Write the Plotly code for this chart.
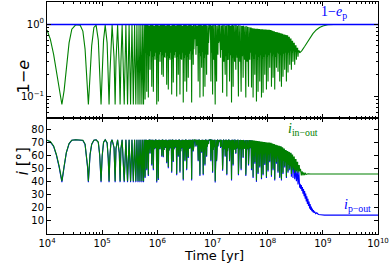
import plotly.graph_objects as go

# ---------------- data (log10 of time in yr) ----------------
early_log_t = [4.00, 4.06, 4.12, 4.17, 4.22, 4.27, 4.31, 4.35, 4.40, 4.45,
               4.52, 4.60, 4.65, 4.69, 4.72, 4.735, 4.75, 4.765, 4.78, 4.81,
               4.85, 4.89, 4.93, 4.955, 4.98, 5.00, 5.025, 5.055, 5.09, 5.11,
               5.125, 5.14, 5.16, 5.18, 5.215, 5.235, 5.25, 5.28, 5.31, 5.325,
               5.34, 5.362, 5.40, 5.43, 5.46, 5.488, 5.515, 5.54, 5.565, 5.588,
               5.61, 5.63, 5.65, 5.668, 5.685, 5.702, 5.72, 5.735, 5.75, 5.764]
early_one_minus_e = [0.83, 0.62, 0.38, 0.22, 0.12, 0.077, 0.12, 0.25, 0.55, 0.85,
                     0.98, 0.97, 0.80, 0.45, 0.20, 0.12, 0.077, 0.12, 0.22, 0.50,
                     0.90, 0.97, 0.60, 0.22, 0.077, 0.20, 0.60, 0.97, 0.55, 0.18,
                     0.077, 0.20, 0.60, 0.97, 0.35, 0.077, 0.30, 0.97, 0.25, 0.077,
                     0.30, 0.97, 0.077, 0.97, 0.077, 0.97, 0.077, 0.97, 0.077, 0.97,
                     0.077, 0.97, 0.077, 0.97, 0.077, 0.97, 0.077, 0.97, 0.077, 0.97]
early_i_in = [72, 71, 67.5, 61, 52, 40.5, 52, 62.5, 69.5, 72,
              72.3, 72.3, 72, 69, 60, 52, 40.5, 52, 61, 69,
              72, 72.3, 70.5, 61, 40.5, 60, 70.5, 72.3, 70, 58,
              40.5, 60, 70.5, 72.3, 66.5, 40.5, 65.5, 72.3, 62.5, 40.5,
              65.5, 72.3, 40.5, 72.3, 40.5, 72.3, 40.5, 72.3, 40.5, 72.3,
              40.5, 72.3, 40.5, 72.3, 40.5, 72.3, 40.5, 72.3, 40.5, 72.3]
early_i_p = [72, 70.7, 67.2, 60.5, 51.3, 39.8, 51.3, 62.2, 69.2, 72,
             72.3, 72.3, 71.8, 68.7, 59.5, 51.3, 39.8, 51.3, 60.5, 68.7,
             72, 72.3, 70.2, 60.5, 39.8, 59.5, 70.2, 72.3, 69.7, 57.5,
             39.8, 59.5, 70.2, 72.3, 66.2, 39.8, 65.2, 72.3, 62.2, 39.8,
             65.2, 72.3, 39.8, 72.3, 39.8, 72.3, 39.8, 72.3, 39.8, 72.3,
             39.8, 72.3, 39.8, 72.3, 39.8, 72.3, 39.8, 72.3, 39.8, 72.3]

# chaotic phase: times of the local minima and the minima / following maxima
dense_log_t = [5.778, 5.808, 5.837, 5.868, 5.899, 5.928, 5.958, 5.989, 6.018, 6.049,
               6.080, 6.108, 6.139, 6.170, 6.199, 6.230, 6.260, 6.289, 6.320, 6.351,
               6.380, 6.410, 6.441, 6.470, 6.501, 6.532, 6.561, 6.591, 6.622, 6.651,
               6.673, 6.700, 6.741, 6.772, 6.803, 6.832, 6.863, 6.893, 6.917, 6.940,
               6.971, 7.002, 7.025, 7.049, 7.074, 7.098, 7.121, 7.146, 7.183, 7.206,
               7.230, 7.260, 7.284, 7.309, 7.345, 7.374, 7.400, 7.423, 7.447, 7.470,
               7.496, 7.519, 7.555, 7.581, 7.604, 7.628, 7.653, 7.676, 7.707, 7.736,
               7.767, 7.797, 7.826, 7.857, 7.888, 7.917, 7.948, 7.978, 8.007, 8.038,
               8.069, 8.098, 8.128, 8.159, 8.188, 8.219, 8.250, 8.278, 8.309, 8.340,
               8.369, 8.400, 8.430, 8.459, 8.490, 8.521, 8.550, 8.580]
dense_min_one_minus_e = [0.090, 0.116, 0.096, 0.234, 0.136, 0.116, 0.321, 0.077, 0.085, 0.301,
                         0.199, 0.187, 0.342, 0.145, 0.124, 0.321, 0.106, 0.155, 0.342, 0.099,
                         0.199, 0.106, 0.321, 0.082, 0.160, 0.116, 0.181, 0.321, 0.082, 0.274,
                         0.607, 0.377, 0.160, 0.096, 0.249, 0.099, 0.136, 0.199, 0.377, 0.834,
                         0.160, 0.106, 0.321, 0.077, 0.160, 0.377, 0.607, 0.342, 0.112, 0.301,
                         0.199, 0.099, 0.321, 0.160, 0.082, 0.136, 0.301, 0.234, 0.342, 0.099,
                         0.301, 0.116, 0.181, 0.321, 0.096, 0.301, 0.136, 0.321, 0.132, 0.096,
                         0.199, 0.085, 0.116, 0.160, 0.096, 0.112, 0.199, 0.124, 0.160, 0.249,
                         0.136, 0.181, 0.124, 0.249, 0.219, 0.160, 0.136, 0.187, 0.234, 0.160,
                         0.213, 0.274, 0.234, 0.301, 0.274, 0.321, 0.353, 0.401]
dense_max_one_minus_e = [0.97, 0.98, 0.96, 0.98, 0.97, 0.95, 0.98, 0.97, 0.96, 0.98,
                         0.97, 0.98, 0.96, 0.97, 0.98, 0.95, 0.97, 0.98, 0.96, 0.97,
                         0.98, 0.97, 0.95, 0.98, 0.97, 0.96, 0.98, 0.97, 0.95, 0.97,
                         0.98, 0.96, 0.97, 0.98, 0.96, 0.97, 0.98, 0.95, 0.97, 0.98,
                         0.96, 0.97, 0.98, 0.97, 0.95, 0.97, 0.98, 0.96, 0.97, 0.98,
                         0.96, 0.97, 0.98, 0.95, 0.97, 0.96, 0.98, 0.97, 0.95, 0.97,
                         0.96, 0.94, 0.95, 0.93, 0.94, 0.92, 0.91, 0.90,
                         0.875, 0.87, 0.865, 0.86, 0.855, 0.85, 0.848, 0.845, 0.842, 0.838, 0.835, 0.83,
                         0.81, 0.795, 0.78, 0.77, 0.76, 0.75, 0.735, 0.72, 0.71, 0.70,
                         0.67, 0.63, 0.59, 0.55, 0.51, 0.47, 0.43]
# lower edge of the solid (unresolved) part of the chaotic band
dense_floor_one_minus_e = [0.40, 0.38, 0.36, 0.42, 0.35, 0.36, 0.40, 0.34, 0.38, 0.41,
                           0.37, 0.35, 0.40, 0.36, 0.34, 0.40, 0.33, 0.37, 0.41, 0.35,
                           0.38, 0.33, 0.40, 0.34, 0.37, 0.35, 0.39, 0.42, 0.38, 0.45,
                           0.62, 0.50, 0.40, 0.36, 0.41, 0.34, 0.38, 0.43, 0.55, 0.85,
                           0.40, 0.35, 0.41, 0.33, 0.45, 0.55, 0.62, 0.44, 0.35, 0.40,
                           0.36, 0.33, 0.40, 0.37, 0.34, 0.36, 0.40, 0.38, 0.42, 0.35,
                           0.40, 0.36, 0.38, 0.40, 0.35, 0.40, 0.37, 0.40,
                           0.36, 0.33, 0.38, 0.32, 0.35, 0.37, 0.33, 0.35, 0.38, 0.35, 0.37, 0.40,
                           0.36, 0.38, 0.35, 0.40, 0.39, 0.37, 0.36, 0.39, 0.40, 0.38,
                           0.40, 0.42, 0.40, 0.42, 0.41, 0.42, 0.42]
dense_min_i_in = [44, 50, 45.5, 62.2, 53.5, 50, 66, 40.5, 42.5, 65.3,
                  60, 59.5, 66.7, 55, 51.5, 66, 48, 56, 66.7, 46,
                  60, 48, 66, 42, 56.5, 50, 59, 66, 42, 64,
                  71, 67.5, 56.5, 45.5, 63, 46, 53.5, 60, 67.5, 72,
                  56.5, 48, 66, 40.5, 56.5, 67.5, 71, 66.7, 49.5, 65.3,
                  60, 46, 66, 56.5, 42, 53.5, 65.3, 62.2, 66.7, 46,
                  65.3, 50, 59, 66, 45.5, 65.3, 53.5, 66,
                  50, 44, 55, 41, 47, 52, 43, 46, 54, 44, 49, 56,
                  45, 50, 42, 55, 48, 44, 42, 47, 52, 44,
                  48, 50, 46, 49, 47, 48, 47, 48]
dense_max_i_in = [72.3, 72.1, 72.4, 72.2, 72.3, 72.0, 72.4, 72.2, 72.3, 72.1,
                  72.4, 72.2, 72.3, 72.0, 72.3, 72.2, 72.4, 72.1, 72.3, 72.2,
                  72.4, 72.0, 72.3, 72.2, 72.4, 72.1, 72.3, 72.2, 72.4, 72.0,
                  72.3, 72.2, 72.4, 72.1, 72.3, 72.2, 72.4, 72.0, 72.3, 72.2,
                  72.4, 72.1, 72.3, 72.2, 72.4, 72.0, 72.3, 72.2, 72.4, 72.1,
                  72.3, 72.2, 72.4, 72.0, 72.3, 72.2, 72.4, 72.1, 72.3, 72.2,
                  72.2, 72.1, 72.2, 72.0, 72.1, 72.0, 72.1, 72.0,
                  72, 71.8, 71.6, 71.4, 71.2, 71, 70.8, 70.6, 70.4, 70.2, 70.1, 70,
                  69.5, 69, 68.5, 68, 67.7, 67.4, 66.5, 65.5, 64.5, 63.6,
                  63, 62.3, 61, 59.5, 57.5, 55.5, 53]
dense_floor_i_in = [66, 65.5, 65, 66.5, 64.5, 65, 66, 64, 65.5, 66.5,
                    65.5, 64.5, 66, 65, 64, 66, 63.5, 65, 66.5, 64.5,
                    65.5, 63.5, 66, 64, 65, 64.5, 65.5, 66.5, 65.5, 67,
                    71, 68.5, 66, 65, 66.5, 64, 65.5, 67, 69, 72,
                    66, 64.5, 66.5, 63.5, 67, 69, 71, 67, 64.5, 66,
                    65, 63.5, 66, 65, 64, 65, 66, 65.5, 66.5, 64.5,
                    66, 65, 65.5, 66, 64.5, 66, 65, 66,
                    62, 60, 63, 59, 61, 62, 60, 61, 62, 60, 61, 62,
                    59, 60, 58, 60, 58, 57, 56, 56, 55, 54,
                    53, 52, 51, 50, 49, 48.5, 48]
dense_min_i_p = [43, 49, 44.5, 61.5, 52.5, 49, 65.5, 39.5, 41.5, 64.8,
                 59.3, 58.8, 66, 54.2, 50.5, 65.5, 47, 55.3, 66, 45,
                 59.3, 47, 65.5, 41, 55.8, 49, 58.3, 65.5, 41, 63.3,
                 70.5, 67, 55.8, 44.5, 62.3, 45, 52.5, 59.3, 67, 71.5,
                 55.8, 47, 65.5, 39.5, 55.8, 67, 70.5, 66, 48.5, 64.8,
                 59.3, 45, 65.5, 55.8, 41, 52.5, 64.8, 61.5, 66, 45,
                 64.8, 49, 58.3, 65.5, 44.5, 64.8, 52.5, 65.5,
                 49, 43, 54, 40, 46, 51, 42, 45, 53, 43, 48, 55,
                 44, 49, 41, 54, 47, 43, 41, 46, 51, 43,
                 47, 49, 44, 43, 42, 40.5, 38, 35.5]
dense_max_i_p = [72.3, 72.1, 72.4, 72.2, 72.3, 72.0, 72.4, 72.2, 72.3, 72.1,
                 72.4, 72.2, 72.3, 72.0, 72.3, 72.2, 72.4, 72.1, 72.3, 72.2,
                 72.4, 72.0, 72.3, 72.2, 72.4, 72.1, 72.3, 72.2, 72.4, 72.0,
                 72.3, 72.2, 72.4, 72.1, 72.3, 72.2, 72.4, 72.0, 72.3, 72.2,
                 72.4, 72.1, 72.3, 72.2, 72.4, 72.0, 72.3, 72.2, 72.4, 72.1,
                 72.3, 72.2, 72.4, 72.0, 72.3, 72.2, 72.4, 72.1, 72.3, 72.2,
                 72.2, 72.1, 72.2, 72.0, 72.1, 72.0, 72.1, 72.0,
                 71.5, 71.3, 71.1, 70.9, 70.7, 70.5, 70.3, 70.1, 69.9, 69.7, 69.6, 69.5,
                 69, 68.5, 68, 67.5, 67.2, 66.9, 66, 65, 64, 63.1,
                 62.5, 61.8, 58, 52, 46, 44, 41]

# late, tidally damped phase
late_log_t_e = [8.62, 8.67, 8.72, 8.76, 8.82, 8.88, 8.94, 9.00, 9.09, 9.20, 10.0]
late_one_minus_e = [0.43, 0.49, 0.565, 0.64, 0.74, 0.83, 0.90, 0.945, 0.98, 0.99, 0.99]
late_log_t_in = [8.595, 8.61, 8.625, 8.64, 8.655, 8.67, 8.685, 8.70, 8.73, 8.78, 10.0]
late_i_in = [50, 45, 48, 45, 47.3, 45.3, 46.6, 45.7, 46.2, 46, 46]
late_log_t_p = [8.59, 8.60, 8.61, 8.62, 8.63, 8.64, 8.65, 8.66, 8.67, 8.68,
                8.69, 8.70, 8.71, 8.72, 8.73, 8.74, 8.75, 8.76, 8.77, 8.78,
                8.79, 8.80, 8.81, 8.82, 8.83, 8.84, 8.85, 8.87, 8.89, 8.92,
                8.96, 9.03, 10.0]
late_i_p = [38.5, 34.5, 37.5, 33, 36, 31, 34.5, 29, 33, 27,
            31, 25, 29, 23, 27, 21.5, 25, 19.5, 23, 18.5,
            21, 17.5, 19.5, 16.8, 18.3, 16.2, 17.3, 15.6, 16.3, 15.0,
            14.8, 14.5, 14.5]

planet_log_t = [4.0, 10.0]
planet_one_minus_e = [0.99, 0.99]

x_ticks = [1e4, 1e5, 1e6, 1e7, 1e8, 1e9, 1e10]
x_ticktext = ["10<sup>4</sup>", "10<sup>5</sup>", "10<sup>6</sup>", "10<sup>7</sup>",
              "10<sup>8</sup>", "10<sup>9</sup>", "10<sup>10</sup>"]
top_y_ticks = [0.1, 1]
top_y_ticktext = ["10<sup>−1</sup>", "10<sup>0</sup>"]
bottom_y_ticks = [10, 20, 30, 40, 50, 60, 70, 80]


def zigzag(t_min, v_min, v_max, v_floor):
    """minimum -> maximum -> band floor -> maximum -> next minimum"""
    ts, vs = [], []
    n = len(t_min)
    for k in range(n):
        ts.append(t_min[k]); vs.append(v_min[k])
        if k < n - 1:
            dt = t_min[k + 1] - t_min[k]
            ts += [t_min[k] + 0.25 * dt, t_min[k] + 0.5 * dt, t_min[k] + 0.75 * dt]
            vs += [v_max[k], v_floor[k], v_max[k]]
    return ts, vs


zt, zv = zigzag(dense_log_t, dense_min_one_minus_e, dense_max_one_minus_e, dense_floor_one_minus_e)
lt_e = early_log_t + zt + late_log_t_e
v_e = early_one_minus_e + zv + late_one_minus_e

zt, zv = zigzag(dense_log_t, dense_min_i_in, dense_max_i_in, dense_floor_i_in)
lt_in = early_log_t + zt + late_log_t_in
v_in = early_i_in + zv + late_i_in

zt, zv = zigzag(dense_log_t, dense_min_i_p, dense_max_i_p, dense_floor_i_in)
lt_p = early_log_t + zt + late_log_t_p
v_p = early_i_p + zv + late_i_p

GREEN = "#008000"
BLUE = "#0000ff"

fig = go.Figure()
fig.add_trace(go.Scatter(x=[10 ** v for v in lt_e], y=v_e, mode="lines",
                         line=dict(color=GREEN, width=1.1), xaxis="x", yaxis="y"))
fig.add_trace(go.Scatter(x=[10 ** v for v in planet_log_t], y=planet_one_minus_e, mode="lines",
                         line=dict(color=BLUE, width=1.6), xaxis="x", yaxis="y"))
fig.add_trace(go.Scatter(x=[10 ** v for v in lt_p], y=v_p, mode="lines",
                         line=dict(color=BLUE, width=1.1), xaxis="x2", yaxis="y2"))
fig.add_trace(go.Scatter(x=[10 ** v for v in lt_in], y=v_in, mode="lines",
                         line=dict(color=GREEN, width=1.1), xaxis="x2", yaxis="y2"))

minor_x = [k * 10 ** n for n in range(4, 10) for k in range(2, 10)]
minor_y = [0.06, 0.07, 0.08, 0.09, 0.2, 0.3, 0.4, 0.5, 0.6, 0.7, 0.8, 0.9, 2]

axis_common = dict(showline=True, linecolor="black", linewidth=1, mirror="allticks",
                   ticks="inside", ticklen=4, tickcolor="black", showgrid=False,
                   zeroline=False, automargin=False)

fig.update_layout(
    width=390, height=264,
    margin=dict(l=47, r=12, t=2, b=30),
    paper_bgcolor="white", plot_bgcolor="white",
    showlegend=False,
    font=dict(family="DejaVu Sans", size=10, color="black"),
    xaxis=dict(type="log", range=[4, 10], domain=[0, 1], anchor="y",
               tickvals=x_ticks, showticklabels=False,
               minor=dict(tickvals=minor_x, ticks="inside", ticklen=2, tickcolor="black"),
               **axis_common),
    yaxis=dict(type="log", range=[-1.301, 0.307], domain=[0.5, 1], anchor="x",
               tickvals=top_y_ticks, ticktext=top_y_ticktext,
               minor=dict(tickvals=minor_y, ticks="inside", ticklen=2, tickcolor="black"),
               **axis_common),
    xaxis2=dict(type="log", range=[4, 10], domain=[0, 1], anchor="y2",
                tickvals=x_ticks, ticktext=x_ticktext,
                minor=dict(tickvals=minor_x, ticks="inside", ticklen=2, tickcolor="black"),
                **axis_common),
    yaxis2=dict(range=[0, 89], domain=[0, 0.5], anchor="x2",
                tickvals=bottom_y_ticks, **axis_common),
    annotations=[
        dict(text="1−<i>e</i>", xref="paper", yref="paper", x=-0.105, y=0.76,
             textangle=-90, showarrow=False, font=dict(size=16, family="DejaVu Sans")),
        dict(text="<i>i</i> [°]", xref="paper", yref="paper", x=-0.105, y=0.246,
             textangle=-90, showarrow=False, font=dict(size=15, family="DejaVu Sans")),
        dict(text="Time [yr]", xref="paper", yref="paper", x=0.504, y=-0.093,
             yanchor="middle", showarrow=False, font=dict(size=13, family="DejaVu Sans")),
        dict(text="1−<i>e</i><sub>p</sub>", xref="x", yref="y", x=9.195, y=0.16,
             showarrow=False, font=dict(size=14, family="Liberation Serif", color=BLUE)),
        dict(text="<i>i</i><sub>in−out</sub>", xref="x2", yref="y2", x=8.64, y=80.5,
             showarrow=False, font=dict(size=14, family="Liberation Serif", color=GREEN)),
        dict(text="<i>i</i><sub>p−out</sub>", xref="x2", yref="y2", x=9.62, y=22,
             showarrow=False, font=dict(size=14, family="Liberation Serif", color=BLUE)),
    ],
)

fig.write_html("out.html", config={"displayModeBar": False},
               post_script="document.body.style.margin='0';document.body.style.overflow='hidden';")
